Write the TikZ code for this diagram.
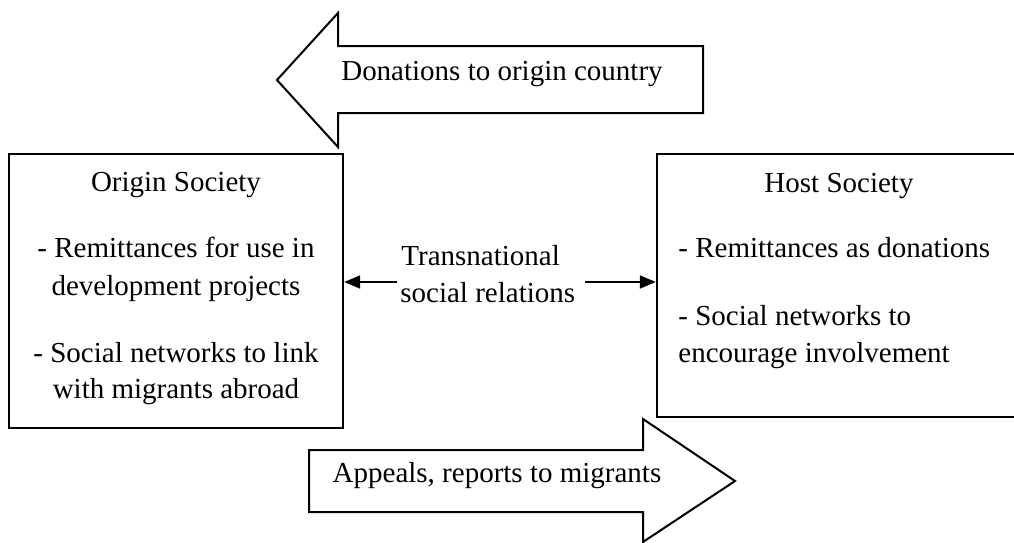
\documentclass[tikz,border=0pt]{standalone}
\usepackage{fontspec}
\setmainfont{Liberation Serif}
\usepackage{tikz}
\usetikzlibrary{arrows.meta,positioning,calc}

\begin{document}
\begin{tikzpicture}[
  x=0.5pt, y=-0.5pt,
  soc/.style={draw, line width=1.2pt, minimum width=#1, inner sep=0pt},
  txt/.style={anchor=base, inner sep=0pt, font=\fontsize{14.5}{18.5}\selectfont},
  blk/.style={draw, line width=1pt, line join=miter, fill=white},
  arr/.style={-{Triangle[length=8pt,width=6.5pt]}, line width=1pt}
]
\useasboundingbox (0,0) rectangle (1014,542);

% the two societies
\node[soc=167pt, minimum height=137pt] (origin) at (176,291) {};
\node[soc=182pt, minimum height=131.5pt] (host) at (839,285.5) {};

\foreach \y/\t [count=\i] in {191/Origin Society, 257/- Remittances for use in,
  295/development projects, 362/- Social networks to link, 398/with migrants abroad}
  \node[txt] (o\i) at (176,\y) {\t};
\node[txt] (h1) at (839,192) {Host Society};
\foreach \y/\t [count=\i from 2] in {257/- Remittances as donations,
  325/- Social networks to, 362/encourage involvement}
  \node[txt, anchor=base west] (h\i) at (678,\y) {\t};

% block arrows
\draw[blk] (277,80) -- (338,13) -- (338,46) -- (703,46) -- (703,113)
  -- (338,113) -- (338,147) -- cycle;
\node[txt] (donate) at (502,80) {Donations to origin country};
\draw[blk] (309,450) -- (643,450) -- (643,419) -- (735,481) -- (643,542)
  -- (643,512) -- (309,512) -- cycle;
\node[txt] (appeal) at (497,482) {Appeals, reports to migrants};

% transnational relations
\node[txt, anchor=base west] (rel1) at (401,265) {Transnational};
\node[txt, anchor=base west] (rel2) at (400,302) {social relations};
\coordinate (rl) at (397,282);
\coordinate (rr) at (585,282);
\draw[arr] (rl) -- (rl -| origin.east);
\draw[arr] (rr) -- (rr -| host.west);
\end{tikzpicture}
\end{document}
